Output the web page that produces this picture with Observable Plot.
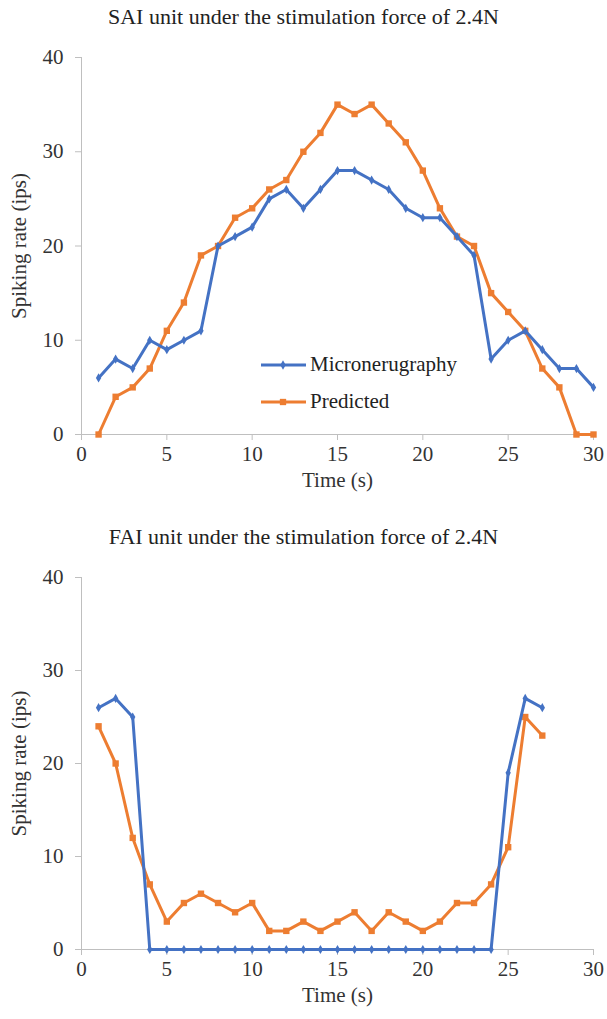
<!DOCTYPE html>
<html>
<head>
<meta charset="utf-8">
<script src="https://cdn.jsdelivr.net/npm/d3@7"></script>
<script src="https://cdn.jsdelivr.net/npm/@observablehq/plot@0.6"></script>
<style>
  body { margin: 0; background: #fff; }
  #wrap { position: relative; width: 607px; height: 1019px; font-family: "Liberation Serif", "Tinos", "Times New Roman", Times, "Nimbus Roman", "DejaVu Serif", serif; color: #222; }
  .title { position: absolute; left: 0; width: 607px; text-align: center; font-size: 22px; line-height: 22px; }
  .plot { position: absolute; left: 0; }
  .plot text { font-family: "Liberation Serif", "Tinos", "Times New Roman", Times, "Nimbus Roman", "DejaVu Serif", serif; }
  .legend { position: absolute; font-size: 21px; line-height: 21px; }
  .legend div { display: flex; align-items: center; height: 37px; }
  .legend svg { margin-right: 3px; }
</style>
</head>
<body>
<div id="wrap"></div>
<script>
// ---- Data ----
const saiTime  = [1,2,3,4,5,6,7,8,9,10,11,12,13,14,15,16,17,18,19,20,21,22,23,24,25,26,27,28,29,30];
const saiMicro = [6,8,7,10,9,10,11,20,21,22,25,26,24,26,28,28,27,26,24,23,23,21,19,8,10,11,9,7,7,5];
const saiPred  = [0,4,5,7,11,14,19,20,23,24,26,27,30,32,35,34,35,33,31,28,24,21,20,15,13,11,7,5,0,0];

const faiTime  = [1,2,3,4,5,6,7,8,9,10,11,12,13,14,15,16,17,18,19,20,21,22,23,24,25,26,27];
const faiMicro = [26,27,25,0,0,0,0,0,0,0,0,0,0,0,0,0,0,0,0,0,0,0,0,0,19,27,26];
const faiPred  = [24,20,12,7,3,5,6,5,4,5,2,2,3,2,3,4,2,4,3,2,3,5,5,7,11,25,23];

const seriesNames = ["Micronerugraphy", "Predicted"];
const xTicks = [0,5,10,15,20,25,30];
const yTicks = [0,10,20,30,40];
const titles = ["SAI unit under the stimulation force of 2.4N", "FAI unit under the stimulation force of 2.4N"];
const xLabel = "Time (s)";
const yLabel = "Spiking rate (ips)";

const BLUE = "#4472C4", ORANGE = "#ED7D31", AXIS = "#BFBFBF";
const FONT = "Liberation Serif, Tinos, Times New Roman, Times, DejaVu Serif, serif";

function rows(t, a) { return t.map((x, i) => ({t: x, v: a[i]})); }

function chart(time, micro, pred, height, marginTop, marginBottom) {
  const m = rows(time, micro), p = rows(time, pred);
  return Plot.plot({
    width: 607, height, marginLeft: 81, marginRight: 14, marginTop, marginBottom,
    style: {fontFamily: FONT, fontSize: "21px", color: "#333", background: "transparent"},
    x: {domain: [0, 30]},
    y: {domain: [0, 40]},
    marks: [
      Plot.axisX({ticks: xTicks, tickSize: 6, tickPadding: 6, stroke: AXIS, fill: "#333", label: xLabel, labelAnchor: "center", labelArrow: "none", labelOffset: 52, fontSize: 21}),
      Plot.axisY({ticks: yTicks, tickSize: 6, tickPadding: 12, stroke: AXIS, fill: "#333", label: yLabel, labelAnchor: "center", labelArrow: "none", labelOffset: 70, fontSize: 21}),
      Plot.ruleX([0], {stroke: AXIS, strokeWidth: 1}),
      Plot.ruleY([0], {stroke: AXIS, strokeWidth: 1}),
      Plot.line(p, {x: "t", y: "v", stroke: ORANGE, strokeWidth: 3, strokeLinejoin: "round"}),
      Plot.dot(p, {x: "t", y: "v", symbol: "square", r: 3.6, fill: ORANGE, stroke: "none"}),
      Plot.line(m, {x: "t", y: "v", stroke: BLUE, strokeWidth: 3, strokeLinejoin: "round"}),
      Plot.dot(m, {x: "t", y: "v", symbol: "diamond", r: 2.8, fill: BLUE, stroke: "none"})
    ]
  });
}

const wrap = document.getElementById("wrap");

function addTitle(text, top) {
  const d = document.createElement("div");
  d.className = "title"; d.textContent = text; d.style.top = top + "px";
  wrap.appendChild(d);
}

const p1 = chart(saiTime, saiMicro, saiPred, 510, 57, 76);
p1.classList.add("plot"); p1.style.top = "0px";
wrap.appendChild(p1);
addTitle(titles[0], 6);

const p2 = chart(faiTime, faiMicro, faiPred, 459, 17, 70);
p2.classList.add("plot"); p2.style.top = "560px";
wrap.appendChild(p2);
addTitle(titles[1], 526);

// Legend (top chart)
const lg = document.createElement("div");
lg.className = "legend"; lg.style.left = "261px"; lg.style.top = "346px";
[[seriesNames[0], BLUE, "diamond"], [seriesNames[1], ORANGE, "square"]].forEach(([name, col, sym]) => {
  const row = document.createElement("div");
  const s = d3.create("svg").attr("width", 46).attr("height", 12);
  s.append("line").attr("x1", 0).attr("x2", 45).attr("y1", 6).attr("y2", 6).attr("stroke", col).attr("stroke-width", 3);
  s.append("path").attr("transform", "translate(22,6)")
    .attr("d", d3.symbol(sym === "diamond" ? d3.symbolDiamond : d3.symbolSquare, sym === "diamond" ? 25 : 40)())
    .attr("fill", col);
  row.appendChild(s.node());
  const t = document.createElement("span"); t.textContent = name;
  row.appendChild(t);
  lg.appendChild(row);
});
wrap.appendChild(lg);
</script>
</body>
</html>
